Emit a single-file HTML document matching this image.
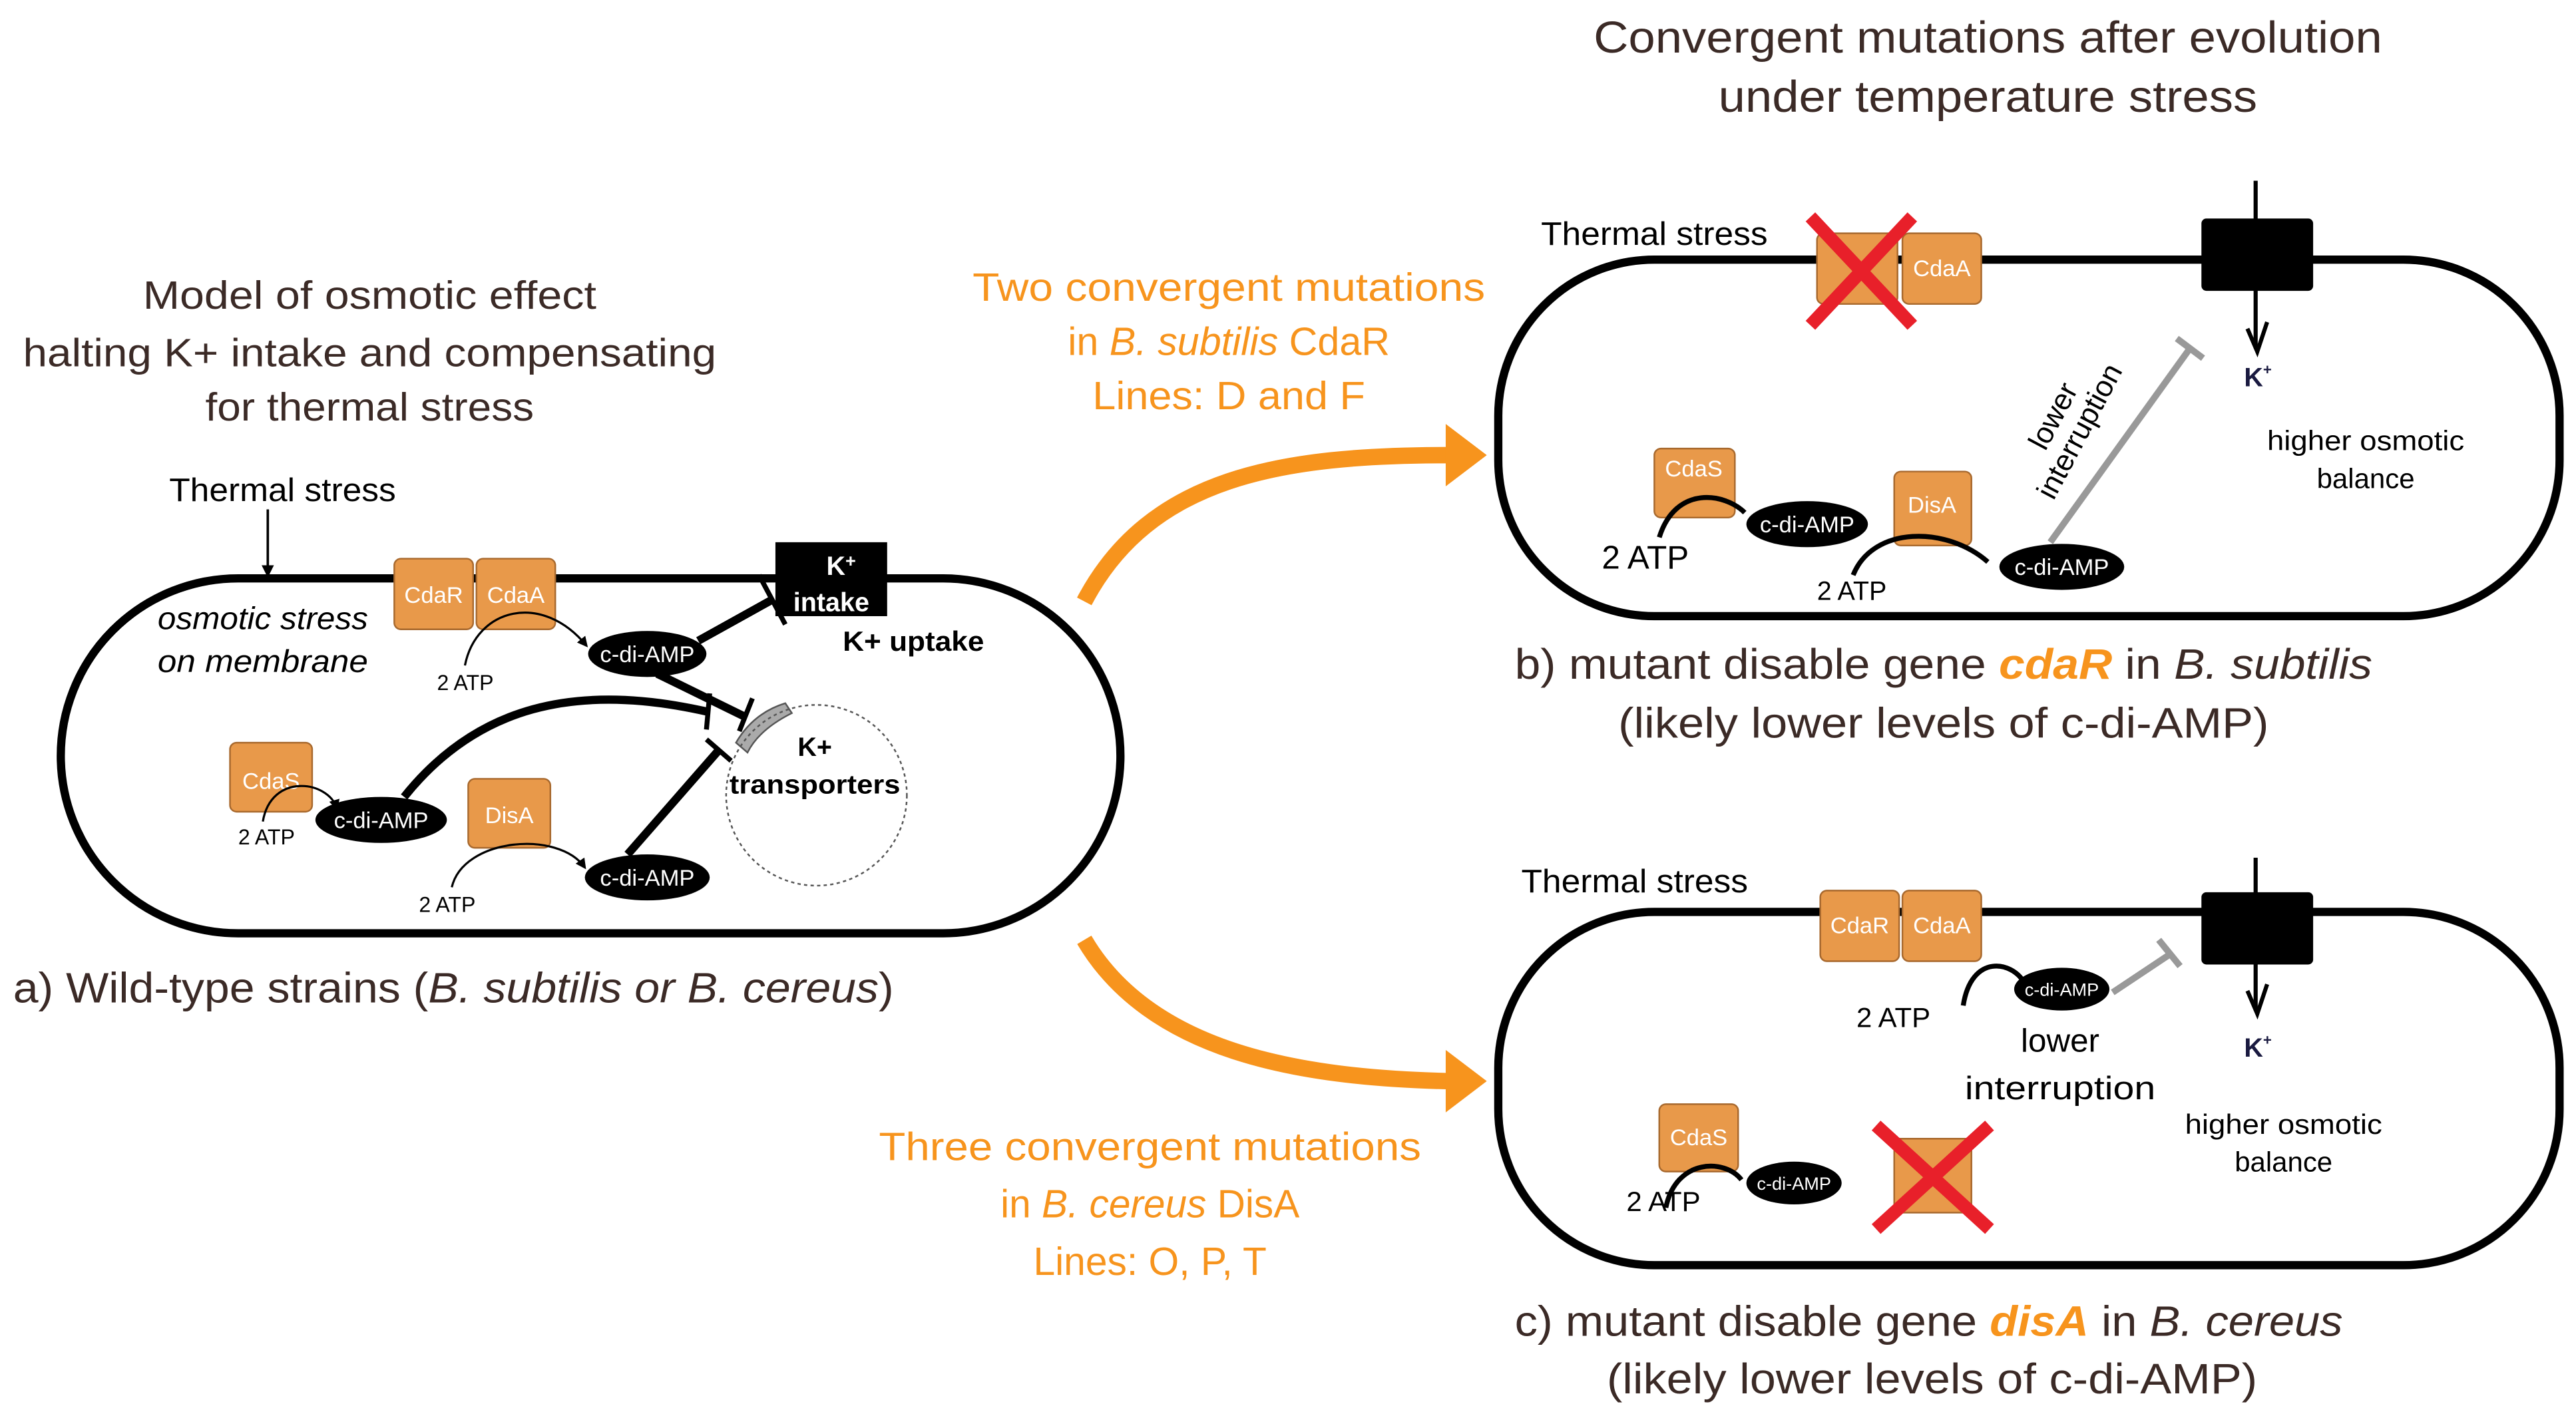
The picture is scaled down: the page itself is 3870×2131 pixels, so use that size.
<!DOCTYPE html>
<html><head><meta charset="utf-8"><style>
html,body{margin:0;padding:0;background:#fff;}
svg{display:block;}
text{font-family:"Liberation Sans Narrow","Liberation Sans",sans-serif;}
</style></head><body>
<svg width="3870" height="2131" viewBox="0 0 1568 863" preserveAspectRatio="none" xmlns="http://www.w3.org/2000/svg">
<defs>
<marker id="ah" viewBox="0 0 10 10" refX="8" refY="5" markerWidth="5" markerHeight="5" orient="auto"><path d="M0,0 L10,5 L0,10 z" fill="#000"/></marker>
</defs>
<g fill="#3b2a26" font-size="27" text-anchor="middle">
<text x="1210" y="32" textLength="480" lengthAdjust="spacingAndGlyphs">Convergent mutations after evolution</text>
<text x="1210" y="68" textLength="328" lengthAdjust="spacingAndGlyphs">under  temperature stress</text>
</g>
<g fill="#3b2a26" font-size="24" text-anchor="middle">
<text x="225" y="188" textLength="276" lengthAdjust="spacingAndGlyphs">Model of osmotic effect</text>
<text x="225" y="223" textLength="422" lengthAdjust="spacingAndGlyphs">halting K+ intake and compensating</text>
<text x="225" y="256" textLength="200" lengthAdjust="spacingAndGlyphs">for thermal stress</text>
</g>
<!-- Cell a -->
<text x="103" y="305" font-size="20" textLength="138" lengthAdjust="spacingAndGlyphs">Thermal stress</text>
<line x1="163" y1="310" x2="163" y2="350" stroke="#000" stroke-width="1.5" marker-end="url(#ah)"/>
<rect x="37" y="352" width="645" height="216" rx="108" fill="none" stroke="#000" stroke-width="5"/>
<g stroke="#a8692e" stroke-width="1" fill="#e8994a">
<rect x="240" y="340" width="48" height="43" rx="4"/><rect x="290" y="340" width="48" height="43" rx="4"/>
<rect x="140" y="452" width="50" height="42" rx="4"/><rect x="285" y="474" width="50" height="42" rx="4"/>
</g>
<g fill="#fff" font-size="14" text-anchor="middle">
<text x="264" y="367">CdaR</text><text x="314" y="367">CdaA</text><text x="165" y="480">CdaS</text><text x="310" y="501">DisA</text>
</g>
<rect x="472" y="330" width="68" height="45" fill="#000"/>
<text x="512" y="350" fill="#fff" font-size="16" font-weight="bold" text-anchor="middle">K<tspan font-size="11" dy="-5">+</tspan></text>
<text x="506" y="372" fill="#fff" font-size="16" font-weight="bold" text-anchor="middle">intake</text>
<text x="96" y="383" font-size="19" font-style="italic" textLength="128" lengthAdjust="spacingAndGlyphs">osmotic stress</text>
<text x="96" y="409" font-size="19" font-style="italic" textLength="128" lengthAdjust="spacingAndGlyphs">on membrane</text>
<text x="513" y="396" font-size="17" font-weight="bold" textLength="86" lengthAdjust="spacingAndGlyphs">K+ uptake</text>
<g font-size="13"><text x="266" y="420">2 ATP</text><text x="145" y="514">2 ATP</text><text x="255" y="555">2 ATP</text></g>
<g fill="none" stroke="#000" stroke-width="1.3">
<path d="M283,405 C290,370 330,360 357,393" marker-end="url(#ah)"/>
<path d="M160,500 C165,470 200,475 205,492" marker-end="url(#ah)"/>
<path d="M275,540 C282,510 340,505 356,528" marker-end="url(#ah)"/>
</g>
<g fill="#000">
<ellipse cx="394" cy="398" rx="36" ry="14"/><ellipse cx="232" cy="499" rx="40" ry="14"/><ellipse cx="394" cy="534" rx="38" ry="14"/>
</g>
<g fill="#fff" font-size="14" text-anchor="middle"><text x="394" y="403">c-di-AMP</text><text x="232" y="504">c-di-AMP</text><text x="394" y="539">c-di-AMP</text></g>
<g stroke="#000" stroke-width="5" fill="none">
<line x1="425" y1="390" x2="470" y2="365"/><line x1="462" y1="350" x2="478" y2="380" stroke-width="3"/>
<line x1="400" y1="410" x2="453" y2="436"/><line x1="458" y1="425" x2="450" y2="445" stroke-width="3"/>
<path d="M246,485 C290,430 350,415 430,433"/><line x1="432" y1="422" x2="430" y2="444" stroke-width="3"/>
<line x1="382" y1="520" x2="438" y2="456"/><line x1="430" y1="450" x2="445" y2="463" stroke-width="3"/>
</g>
<path d="M448,452 C455,440 465,432 478,428 L482,434 C470,440 460,448 455,458 z" fill="#aaa" stroke="#555" stroke-width="1"/>
<circle cx="497" cy="484" r="55" fill="none" stroke="#555" stroke-width="1" stroke-dasharray="2,2"/>
<text x="496" y="460" font-size="16" font-weight="bold" text-anchor="middle">K+</text>
<text x="496" y="483" font-size="16" font-weight="bold" text-anchor="middle" textLength="104" lengthAdjust="spacingAndGlyphs">transporters</text>
<text x="8" y="610" font-size="26" fill="#3b2a26" textLength="536" lengthAdjust="spacingAndGlyphs">a)  Wild-type  strains (<tspan font-style="italic">B. subtilis or B. cereus</tspan>)</text>
<!-- orange arrows -->
<g stroke="#f7941d" stroke-width="10" fill="none">
<path d="M660,366 C700,290 780,277 882,277"/>
<path d="M660,572 C700,640 790,656 882,658"/>
</g>
<path d="M880,258 L905,277 L880,296 z" fill="#f7941d"/>
<path d="M880,639 L905,658 L880,677 z" fill="#f7941d"/>
<g fill="#f7941d" font-size="24" text-anchor="middle">
<text x="748" y="183" textLength="312" lengthAdjust="spacingAndGlyphs">Two convergent mutations</text>
<text x="748" y="216" textLength="196" lengthAdjust="spacingAndGlyphs">in <tspan font-style="italic">B. subtilis</tspan> CdaR</text>
<text x="748" y="249" textLength="166" lengthAdjust="spacingAndGlyphs">Lines:  D and F</text>
<text x="700" y="706" textLength="330" lengthAdjust="spacingAndGlyphs">Three convergent mutations</text>
<text x="700" y="741" textLength="182" lengthAdjust="spacingAndGlyphs">in <tspan font-style="italic">B. cereus</tspan> DisA</text>
<text x="700" y="776" textLength="142" lengthAdjust="spacingAndGlyphs">Lines:  O, P, T</text>
</g>
<!-- Cell b -->
<rect x="912" y="158" width="646" height="217" rx="95" fill="none" stroke="#000" stroke-width="5"/>
<text x="938" y="149" font-size="20" textLength="138" lengthAdjust="spacingAndGlyphs">Thermal stress</text>
<g stroke="#a8692e" stroke-width="1" fill="#e8994a">
<rect x="1106" y="142" width="49" height="43" rx="4"/><rect x="1158" y="142" width="48" height="43" rx="4"/>
<rect x="1007" y="273" width="49" height="42" rx="4"/><rect x="1153" y="287" width="47" height="45" rx="4"/>
</g>
<g fill="#fff" font-size="14" text-anchor="middle"><text x="1182" y="168">CdaA</text><text x="1031" y="290">CdaS</text><text x="1176" y="312">DisA</text></g>
<g stroke="#e8202a" stroke-width="8"><line x1="1102" y1="132" x2="1164" y2="198"/><line x1="1164" y1="132" x2="1102" y2="198"/></g>
<rect x="1340" y="133" width="68" height="44" rx="3" fill="#000"/>
<line x1="1373" y1="110" x2="1373" y2="212" stroke="#000" stroke-width="2.5"/>
<path d="M1368,200 L1374,214 L1380,196" fill="none" stroke="#000" stroke-width="2.5"/>
<text x="1366" y="235" font-size="16" font-weight="bold" fill="#1a1a40">K<tspan font-size="9" dy="-7">+</tspan></text>
<line x1="1248" y1="330" x2="1333" y2="212" stroke="#999" stroke-width="4"/>
<line x1="1325" y1="206" x2="1341" y2="218" stroke="#999" stroke-width="4"/>
<text transform="translate(1245,275) rotate(-62)" font-size="18">lower</text>
<text transform="translate(1250,305) rotate(-62)" font-size="18">interruption</text>
<g font-size="17" text-anchor="middle"><text x="1440" y="274" textLength="120" lengthAdjust="spacingAndGlyphs">higher osmotic</text><text x="1440" y="297">balance</text></g>
<text x="975" y="346" font-size="20">2 ATP</text>
<text x="1106" y="365" font-size="16">2 ATP</text>
<g fill="none" stroke="#000" stroke-width="3">
<path d="M1010,327 C1020,295 1050,300 1062,312"/><path d="M1128,350 C1140,320 1185,320 1210,342"/>
</g>
<ellipse cx="1100" cy="319" rx="37" ry="14" fill="#000"/><ellipse cx="1255" cy="345" rx="38" ry="14" fill="#000"/>
<g fill="#fff" font-size="14" text-anchor="middle"><text x="1100" y="324">c-di-AMP</text><text x="1255" y="350">c-di-AMP</text></g>
<text x="922" y="413" font-size="26" fill="#3b2a26" textLength="522" lengthAdjust="spacingAndGlyphs">b)  mutant disable gene <tspan fill="#f7941d" font-weight="bold" font-style="italic">cdaR</tspan> in <tspan font-style="italic">B. subtilis</tspan></text>
<text x="985" y="449" font-size="26" fill="#3b2a26" textLength="396" lengthAdjust="spacingAndGlyphs">(likely lower levels of c-di-AMP)</text>
<!-- Cell c -->
<rect x="912" y="555" width="646" height="215" rx="95" fill="none" stroke="#000" stroke-width="5"/>
<text x="926" y="543" font-size="20" textLength="138" lengthAdjust="spacingAndGlyphs">Thermal stress</text>
<g stroke="#a8692e" stroke-width="1" fill="#e8994a">
<rect x="1108" y="542" width="48" height="43" rx="4"/><rect x="1158" y="542" width="48" height="43" rx="4"/>
<rect x="1010" y="672" width="48" height="41" rx="4"/><rect x="1153" y="693" width="47" height="45" rx="3"/>
</g>
<g fill="#fff" font-size="14" text-anchor="middle"><text x="1132" y="568">CdaR</text><text x="1182" y="568">CdaA</text><text x="1034" y="697">CdaS</text></g>
<g stroke="#e8202a" stroke-width="8"><line x1="1142" y1="685" x2="1211" y2="748"/><line x1="1211" y1="685" x2="1142" y2="748"/></g>
<rect x="1340" y="543" width="68" height="44" rx="3" fill="#000"/>
<line x1="1373" y1="522" x2="1373" y2="615" stroke="#000" stroke-width="2.5"/>
<path d="M1368,603 L1374,617 L1380,599" fill="none" stroke="#000" stroke-width="2.5"/>
<text x="1366" y="643" font-size="16" font-weight="bold" fill="#1a1a40">K<tspan font-size="9" dy="-7">+</tspan></text>
<line x1="1286" y1="604" x2="1322" y2="580" stroke="#999" stroke-width="4"/>
<line x1="1314" y1="572" x2="1327" y2="588" stroke="#999" stroke-width="4"/>
<g fill="none" stroke="#000" stroke-width="3">
<path d="M1195,612 C1200,580 1225,585 1232,598"/><path d="M1014,735 C1020,705 1050,705 1060,718"/>
</g>
<ellipse cx="1255" cy="602" rx="29" ry="13" fill="#000"/><ellipse cx="1092" cy="720" rx="29" ry="13" fill="#000"/>
<g fill="#fff" font-size="11" text-anchor="middle"><text x="1255" y="606">c-di-AMP</text><text x="1092" y="724">c-di-AMP</text></g>
<text x="1130" y="625" font-size="17">2 ATP</text>
<text x="990" y="737" font-size="17">2 ATP</text>
<g font-size="20" text-anchor="middle"><text x="1254" y="640">lower</text><text x="1254" y="669" textLength="116" lengthAdjust="spacingAndGlyphs">interruption</text></g>
<g font-size="17" text-anchor="middle"><text x="1390" y="690" textLength="120" lengthAdjust="spacingAndGlyphs">higher osmotic</text><text x="1390" y="713">balance</text></g>
<text x="922" y="813" font-size="26" fill="#3b2a26" textLength="504" lengthAdjust="spacingAndGlyphs">c)  mutant disable gene <tspan fill="#f7941d" font-weight="bold" font-style="italic">disA</tspan> in <tspan font-style="italic">B. cereus</tspan></text>
<text x="978" y="848" font-size="26" fill="#3b2a26" textLength="396" lengthAdjust="spacingAndGlyphs">(likely lower levels of c-di-AMP)</text>
</svg>
</body></html>
